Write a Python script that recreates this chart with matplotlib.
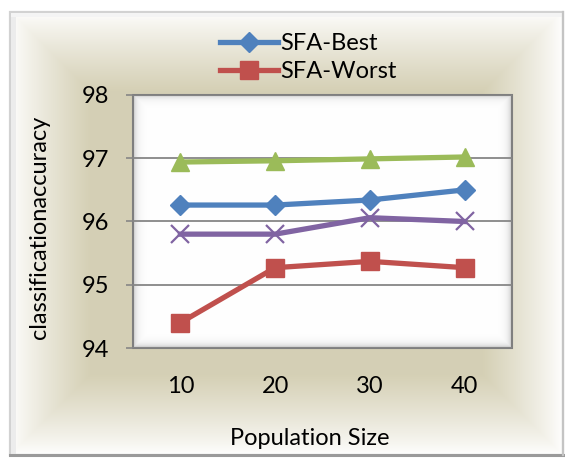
import numpy as np
import matplotlib.pyplot as plt
from matplotlib.patches import Rectangle

plt.rcParams['font.family'] = ['Lato', 'DejaVu Sans']

# classification accuracy for each population size
pop_size = [10, 20, 30, 40]
sfa_best = [96.26, 96.26, 96.34, 96.50]
sfa_worst = [94.40, 95.27, 95.37, 95.27]
sfa_avg_a = [96.94, 96.96, 96.99, 97.02]
sfa_avg_b = [95.80, 95.80, 96.06, 96.00]
y_ticks = [94, 95, 96, 97, 98]

FS = 17

W, H = 565, 461
fig = plt.figure(figsize=(W / 100, H / 100), dpi=100)
fig.patch.set_facecolor('white')

# background layer in pixel coordinates
bg = fig.add_axes([0, 0, 1, 1], zorder=0)
bg.axis('off')

# chart area: beige in the middle, fading to white towards the border
fx0, fy0, fx1, fy1 = 10, 12, 563, 455
yy, xx = np.mgrid[fy0:fy1, fx0:fx1] + 0.5
d = np.minimum.reduce([xx - fx0, fx1 - xx, yy - fy0, fy1 - yy])
t = np.clip(d / 80.0, 0, 1) ** 0.85
beige = np.array([0.835, 0.815, 0.71])
img = 1 - t[..., None] * (1 - beige)
bg.imshow(img, extent=(fx0, fx1, fy1, fy0), interpolation='bilinear', aspect='auto')

# bevelled frame around the chart area
bg.add_patch(Rectangle((fx0, fy0), fx1 - fx0, fy1 - fy0, fill=False,
                       ec='#d2d2d2', lw=1.6))
bg.add_patch(Rectangle((fx0 + 1, fy0 + 1), 5, fy1 - fy0 - 2, fc='#ececec', ec='none'))
bg.add_patch(Rectangle((fx0 + 1, fy0 + 1), fx1 - fx0 - 2, 4, fc='#f4f4f4', ec='none'))
bg.plot([fx0, fx1], [fy1, fy1], color='#9a9a9a', lw=2.2)
bg.plot([fx1, fx1], [fy0, fy1], color='#c4c4c4', lw=1.6)

# plot area: white with a soft grey inner bevel
px0, py0, px1, py1 = 133, 95, 512, 348
yy, xx = np.mgrid[py0:py1, px0:px1] + 0.5
d = np.minimum.reduce([xx - px0, px1 - xx, yy - py0, py1 - yy])
v = 1 - 0.24 * np.exp(-d / 3.5)
bg.imshow(np.dstack([v, v, v]), extent=(px0, px1, py1, py0),
          interpolation='bilinear', aspect='auto')
bg.add_patch(Rectangle((px0, py0), px1 - px0, py1 - py0, fill=False,
                       ec='#7f7f7f', lw=1.5))
bg.set_xlim(0, W)
bg.set_ylim(H, 0)

ax = fig.add_axes([px0 / W, (H - py1) / H, (px1 - px0) / W, (py1 - py0) / H], zorder=1)
ax.patch.set_alpha(0)
for s in ax.spines.values():
    s.set_visible(False)

ax.plot(pop_size, sfa_best, color='#4F81BD', lw=3.8, marker='D', ms=10.5,
        label='SFA-Best')
ax.plot(pop_size, sfa_worst, color='#C0504D', lw=3.8, marker='s', ms=13.5,
        label='SFA-Worst')
ax.plot(pop_size, sfa_avg_a, color='#9BBB59', lw=3.8, marker='^', ms=13,
        label='_nolegend_')
ax.plot(pop_size, sfa_avg_b, color='#8064A2', lw=3.8, marker='x', ms=13, mew=1.6,
        label='_nolegend_')

ax.set_xlim(5, 45)
ax.set_ylim(94, 98)
ax.set_xticks(pop_size)
ax.set_yticks(y_ticks)
ax.yaxis.grid(True, color='#868686', lw=1.3)
ax.set_axisbelow(True)
ax.tick_params(axis='x', length=0, pad=20, labelsize=FS)
ax.tick_params(axis='y', length=5, width=1.2, color='#868686', pad=12, labelsize=FS)

ax.set_xlabel('Population Size', fontsize=FS)
ax.xaxis.set_label_coords((310 - px0) / (px1 - px0), (py1 - 438) / (py1 - py0))
ax.xaxis.label.set_va('center')
ax.set_ylabel('classificationaccuracy', fontsize=FS)
ax.yaxis.set_label_coords((40 - px0) / (px1 - px0), (py1 - 227) / (py1 - py0))
ax.yaxis.label.set_va('center')

h, l = ax.get_legend_handles_labels()
fig.legend(h, l, loc='center left', bbox_to_anchor=(220 / W, 1 - 57.5 / H),
           frameon=False, fontsize=FS, handlelength=2.45, handletextpad=0.1,
           labelspacing=0.3, borderpad=0, borderaxespad=0)

fig.savefig('out.png', dpi=100)
